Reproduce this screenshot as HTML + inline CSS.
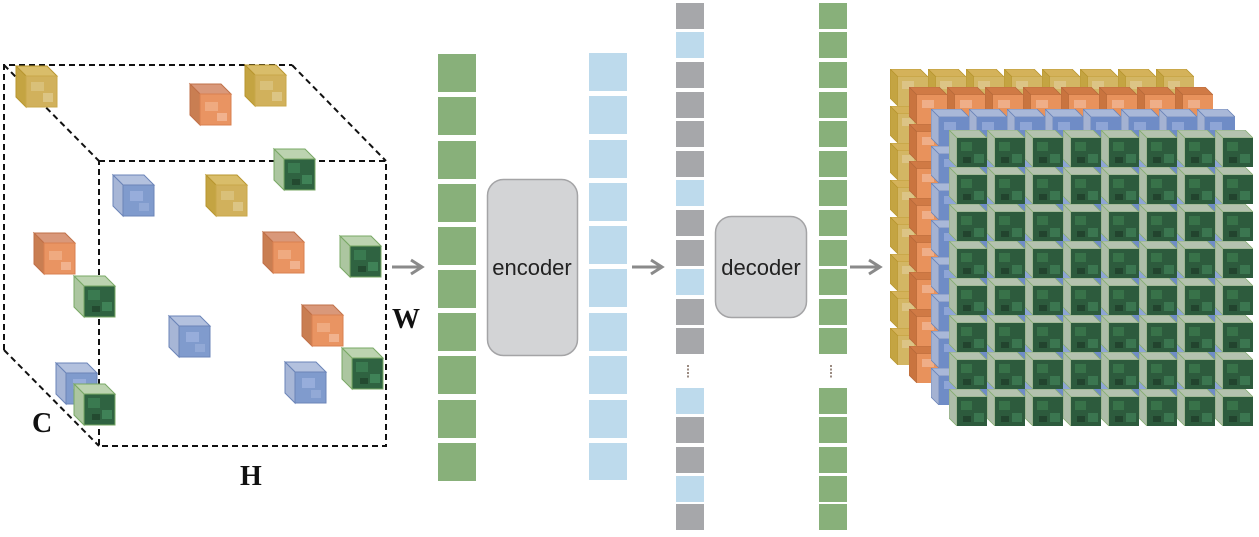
<!DOCTYPE html>
<html><head><meta charset="utf-8"><style>
html,body{margin:0;padding:0;background:#fff;}
svg{display:block;}
</style></head><body>
<svg width="1259" height="537" viewBox="0 0 1259 537" xmlns="http://www.w3.org/2000/svg">
<defs>
  <g id="cy"><polygon points="0,0 31,0 41,10 10,10" fill="#d9bd6a" stroke="#b8962f" stroke-width="1"/><polygon points="0,0 10,10 10,41 0,31" fill="#c4a442" stroke="#b8962f" stroke-width="1"/><rect x="10" y="10" width="31" height="31" fill="#d1b15c" stroke="#c9a84a"/><rect x="15" y="16" width="13" height="9" fill="#d9c079"/><rect x="27" y="27" width="10" height="9" fill="#dcc584"/></g>
  <g id="co"><polygon points="0,0 31,0 41,10 10,10" fill="#d9987a" stroke="#c07048" stroke-width="1"/><polygon points="0,0 10,10 10,41 0,31" fill="#c97e52" stroke="#c07048" stroke-width="1"/><rect x="10" y="10" width="31" height="31" fill="#e99462" stroke="#d98050"/><rect x="15" y="18" width="13" height="9" fill="#efaa80"/><rect x="27" y="29" width="10" height="8" fill="#f1b28e"/></g>
  <g id="cb"><polygon points="0,0 31,0 41,10 10,10" fill="#b3c1de" stroke="#6b84b8" stroke-width="1"/><polygon points="0,0 10,10 10,41 0,31" fill="#a7b6d6" stroke="#6b84b8" stroke-width="1"/><rect x="10" y="10" width="31" height="31" fill="#809bcd" stroke="#6b84b8"/><rect x="17" y="16" width="13" height="10" fill="#97addb"/><rect x="26" y="28" width="10" height="8" fill="#92a9d6"/></g>
  <g id="cg"><polygon points="0,0 31,0 41,10 10,10" fill="#bcd3b0" stroke="#79a865" stroke-width="1"/><polygon points="0,0 10,10 10,41 0,31" fill="#acc6a0" stroke="#79a865" stroke-width="1"/><rect x="10" y="10" width="31" height="31" fill="#2f6341" stroke="#79a865"/><rect x="14" y="14" width="12" height="10" fill="#3a7a50"/><rect x="28" y="26" width="10" height="9" fill="#3f8257"/><rect x="18" y="30" width="8" height="6" fill="#234a30"/></g>

  <pattern id="py" x="890" y="69" width="38" height="37" patternUnits="userSpaceOnUse"><polygon points="0,0 30,0 38,8 8,8" fill="#d4b25a" stroke="#b8962f" stroke-width="0.8"/><polygon points="0,0 8,8 8,37 0,29" fill="#c4a442" stroke="#b8962f" stroke-width="0.8"/><rect x="8" y="8" width="30" height="29" fill="#d3b664"/><rect x="12" y="12" width="12" height="8" fill="#dcc486"/></pattern>
  <pattern id="po" x="909" y="87" width="38" height="37" patternUnits="userSpaceOnUse"><polygon points="0,0 30,0 38,8 8,8" fill="#d07a45" stroke="#b86a3a" stroke-width="0.8"/><polygon points="0,0 8,8 8,37 0,29" fill="#c9743f" stroke="#b86a3a" stroke-width="0.8"/><rect x="8" y="8" width="30" height="29" fill="#e8925c"/><rect x="13" y="13" width="12" height="8" fill="#efae88"/></pattern>
  <pattern id="pb" x="931" y="109" width="38" height="37" patternUnits="userSpaceOnUse"><polygon points="0,0 30,0 38,8 8,8" fill="#a9b8d8" stroke="#6b84b8" stroke-width="0.8"/><polygon points="0,0 8,8 8,37 0,29" fill="#a4b2d2" stroke="#6b84b8" stroke-width="0.8"/><rect x="8" y="8" width="30" height="29" fill="#6f8cc6"/><rect x="13" y="13" width="12" height="8" fill="#8ea5d6"/></pattern>
  <pattern id="pg" x="949" y="130" width="38" height="37" patternUnits="userSpaceOnUse"><polygon points="0,0 30,0 38,8 8,8" fill="#b4c2af" stroke="#86ad72" stroke-width="0.8"/><polygon points="0,0 8,8 8,37 0,29" fill="#adbda8" stroke="#86ad72" stroke-width="0.8"/><rect x="8" y="8" width="30" height="29" fill="#2d5b3d"/><rect x="12" y="12" width="11" height="9" fill="#387249"/><rect x="25" y="24" width="10" height="9" fill="#3b7650"/><rect x="14" y="27" width="8" height="6" fill="#22442e"/></pattern>
</defs>

<g fill="none" stroke="#111" stroke-width="2" stroke-dasharray="6,4">
  <polyline points="4,350 4,65 292,65"/>
  <rect x="99" y="161" width="287" height="285"/>
  <line x1="4" y1="65" x2="99" y2="161"/>
  <line x1="292" y1="65" x2="386" y2="161"/>
  <line x1="4" y1="350" x2="99" y2="446"/>
</g>

<use href="#cy" x="16" y="66"/>
<use href="#co" x="190" y="84"/>
<use href="#cy" x="245" y="65"/>
<use href="#cg" x="274" y="149"/>
<use href="#cb" x="113" y="175"/>
<use href="#cy" x="206" y="175"/>
<use href="#co" x="34" y="233"/>
<use href="#co" x="263" y="232"/>
<use href="#cg" x="340" y="236"/>
<use href="#cg" x="74" y="276"/>
<use href="#cb" x="169" y="316"/>
<use href="#co" x="302" y="305"/>
<use href="#cg" x="342" y="348"/>
<use href="#cb" x="56" y="363"/>
<use href="#cg" x="74" y="384"/>
<use href="#cb" x="285" y="362"/>

<g font-family="Liberation Serif, serif" font-weight="bold" font-size="28" fill="#111">
  <text x="32" y="432">C</text>
  <text x="240" y="485">H</text>
  <text x="392" y="328">W</text>
</g>

<g stroke="#8a8a8a" stroke-width="3" fill="none">
  <line x1="392" y1="267" x2="420" y2="267"/><polyline points="411,260 422,267 411,274"/>
  <line x1="632" y1="267" x2="660" y2="267"/><polyline points="651,260 662,267 651,274"/>
  <line x1="850" y1="267" x2="878" y2="267"/><polyline points="869,260 880,267 869,274"/>
</g>

<g fill="#88b07a">
  <rect x="438" y="54" width="38" height="38"/><rect x="438" y="97" width="38" height="38"/><rect x="438" y="141" width="38" height="38"/><rect x="438" y="184" width="38" height="38"/><rect x="438" y="227" width="38" height="38"/><rect x="438" y="270" width="38" height="38"/><rect x="438" y="313" width="38" height="38"/><rect x="438" y="356" width="38" height="38"/><rect x="438" y="400" width="38" height="38"/><rect x="438" y="443" width="38" height="38"/>
</g>
<rect x="487.5" y="179.5" width="90" height="176" rx="16" fill="#d3d4d6" stroke="#a4a4a6" stroke-width="1.5"/>
<text x="532" y="275" text-anchor="middle" font-family="Liberation Sans, sans-serif" font-size="22" fill="#222">encoder</text>
<g fill="#bddaec">
  <rect x="589" y="53" width="38" height="38"/><rect x="589" y="96" width="38" height="38"/><rect x="589" y="140" width="38" height="38"/><rect x="589" y="183" width="38" height="38"/><rect x="589" y="226" width="38" height="38"/><rect x="589" y="269" width="38" height="38"/><rect x="589" y="313" width="38" height="38"/><rect x="589" y="356" width="38" height="38"/><rect x="589" y="400" width="38" height="38"/><rect x="589" y="443" width="38" height="37"/>
</g>
<g>
  <rect x="676" y="3" width="28" height="26" fill="#a6a7aa"/>
  <rect x="676" y="32" width="28" height="26" fill="#bddaec"/>
  <rect x="676" y="62" width="28" height="26" fill="#a6a7aa"/>
  <rect x="676" y="92" width="28" height="26" fill="#a6a7aa"/>
  <rect x="676" y="121" width="28" height="26" fill="#a6a7aa"/>
  <rect x="676" y="151" width="28" height="26" fill="#a6a7aa"/>
  <rect x="676" y="180" width="28" height="26" fill="#bddaec"/>
  <rect x="676" y="210" width="28" height="26" fill="#a6a7aa"/>
  <rect x="676" y="240" width="28" height="26" fill="#a6a7aa"/>
  <rect x="676" y="269" width="28" height="26" fill="#bddaec"/>
  <rect x="676" y="299" width="28" height="26" fill="#a6a7aa"/>
  <rect x="676" y="328" width="28" height="26" fill="#a6a7aa"/>
  <rect x="676" y="388" width="28" height="26" fill="#bddaec"/>
  <rect x="676" y="417" width="28" height="26" fill="#a6a7aa"/>
  <rect x="676" y="447" width="28" height="26" fill="#a6a7aa"/>
  <rect x="676" y="476" width="28" height="26" fill="#bddaec"/>
  <rect x="676" y="504" width="28" height="26" fill="#a6a7aa"/>
  <line x1="688" y1="365" x2="688" y2="379" stroke="#9a8a80" stroke-width="2" stroke-dasharray="2,1.5"/>
</g>
<rect x="715.5" y="216.5" width="91" height="101" rx="16" fill="#d3d4d6" stroke="#a4a4a6" stroke-width="1.5"/>
<text x="761" y="275" text-anchor="middle" font-family="Liberation Sans, sans-serif" font-size="22" fill="#222">decoder</text>
<g fill="#88b07a">
  <rect x="819" y="3" width="28" height="26"/><rect x="819" y="32" width="28" height="26"/><rect x="819" y="62" width="28" height="26"/><rect x="819" y="92" width="28" height="26"/><rect x="819" y="121" width="28" height="26"/><rect x="819" y="151" width="28" height="26"/><rect x="819" y="180" width="28" height="26"/><rect x="819" y="210" width="28" height="26"/><rect x="819" y="240" width="28" height="26"/><rect x="819" y="269" width="28" height="26"/><rect x="819" y="299" width="28" height="26"/><rect x="819" y="328" width="28" height="26"/>
  <rect x="819" y="388" width="28" height="26"/><rect x="819" y="417" width="28" height="26"/><rect x="819" y="447" width="28" height="26"/><rect x="819" y="476" width="28" height="26"/><rect x="819" y="504" width="28" height="26"/>
</g>
<line x1="831" y1="365" x2="831" y2="379" stroke="#9a8a80" stroke-width="2" stroke-dasharray="2,1.5"/>

<rect x="890" y="69" width="304" height="296" fill="url(#py)"/>
<rect x="909" y="87" width="304" height="296" fill="url(#po)"/>
<rect x="931" y="109" width="304" height="296" fill="url(#pb)"/>
<rect x="949" y="130" width="304" height="296" fill="url(#pg)"/>
</svg>
</body></html>
